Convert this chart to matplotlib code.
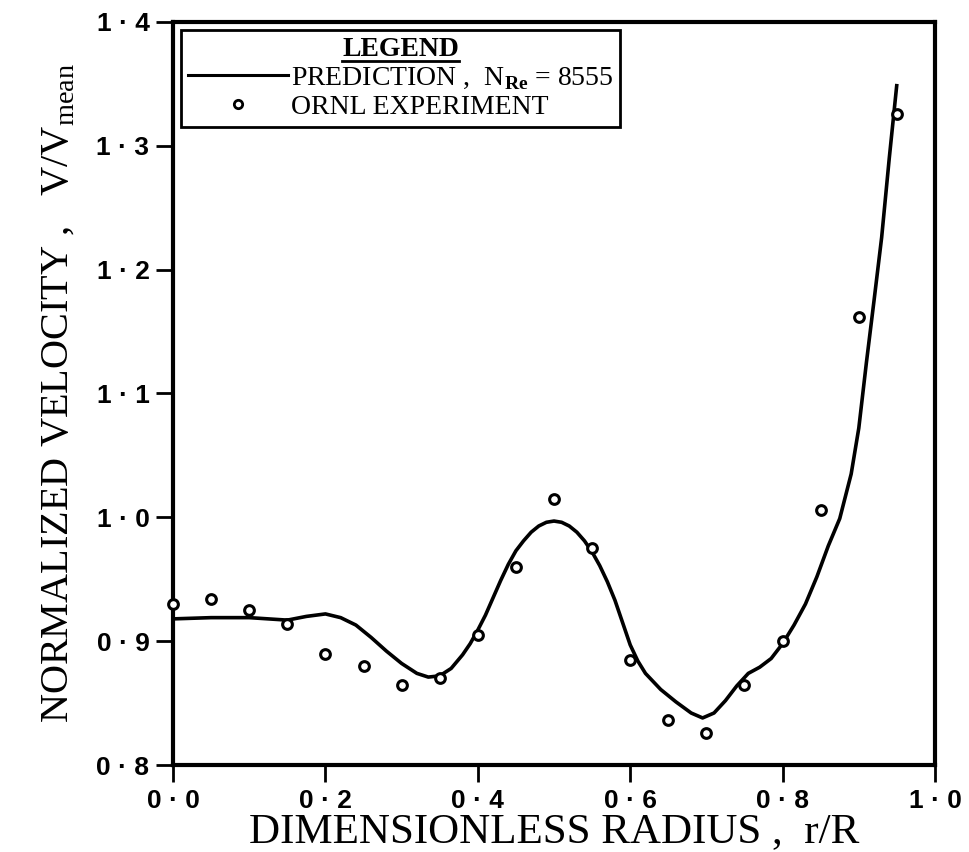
#!/usr/bin/env python3
"""Normalized velocity profile vs dimensionless radius: prediction curve and ORNL data."""
import matplotlib
matplotlib.use("Agg")
import matplotlib.pyplot as plt
from matplotlib.lines import Line2D

# prediction curve, N_Re = 8555
pred_r = [0.0, 0.05, 0.10, 0.15, 0.175, 0.20, 0.22, 0.24, 0.26, 0.28, 0.30, 0.32,
          0.335, 0.35, 0.365, 0.38, 0.39, 0.40, 0.41, 0.42, 0.43, 0.44, 0.45, 0.46,
          0.47, 0.48, 0.49, 0.50, 0.51, 0.52, 0.53, 0.54, 0.55, 0.56, 0.57, 0.58,
          0.59, 0.60, 0.61, 0.62, 0.64, 0.66, 0.68, 0.695, 0.71, 0.725, 0.74, 0.755,
          0.77, 0.785, 0.80, 0.815, 0.83, 0.845, 0.86, 0.875, 0.89, 0.90, 0.91, 0.92,
          0.93, 0.94, 0.95]
pred_v = [0.918, 0.919, 0.919, 0.917, 0.920, 0.922, 0.919, 0.913, 0.903, 0.892, 0.882, 0.874,
          0.871, 0.872, 0.878, 0.889, 0.898, 0.909, 0.921, 0.935, 0.949, 0.962, 0.973, 0.981,
          0.988, 0.993, 0.996, 0.997, 0.996, 0.993, 0.988, 0.981, 0.972, 0.961, 0.948, 0.933,
          0.915, 0.897, 0.884, 0.874, 0.861, 0.851, 0.842, 0.838, 0.842, 0.852, 0.864, 0.874,
          0.879, 0.886, 0.898, 0.913, 0.930, 0.952, 0.977, 0.999, 1.035, 1.072, 1.125, 1.175,
          1.226, 1.290, 1.350]

# ORNL experiment points
exp_r = [0.0, 0.05, 0.10, 0.15, 0.20, 0.25, 0.30, 0.35, 0.40, 0.45, 0.50, 0.55,
         0.60, 0.65, 0.70, 0.75, 0.80, 0.85, 0.90, 0.95]
exp_v = [0.930, 0.934, 0.925, 0.914, 0.890, 0.880, 0.865, 0.870, 0.905, 0.960, 1.015, 0.975,
         0.885, 0.836, 0.826, 0.865, 0.900, 1.006, 1.162, 1.326]

xticks = [0.0, 0.2, 0.4, 0.6, 0.8, 1.0]
xticklabels = ["0 · 0", "0 · 2", "0 · 4", "0 · 6", "0 · 8", "1 · 0"]
yticks = [0.8, 0.9, 1.0, 1.1, 1.2, 1.3, 1.4]
yticklabels = ["0 · 8", "0 · 9", "1 · 0", "1 · 1", "1 · 2", "1 · 3", "1 · 4"]

plt.rcParams["font.family"] = ["Liberation Serif", "DejaVu Serif"]
plt.rcParams["mathtext.fontset"] = "custom"
plt.rcParams["mathtext.rm"] = "Liberation Serif"
plt.rcParams["mathtext.bf"] = "Liberation Serif:bold"

fig = plt.figure(figsize=(9.7, 8.52), dpi=100)
ax = fig.add_axes([0.1784, 0.1021, 0.7855, 0.8721])

ax.plot(pred_r, pred_v, color="black", lw=2.6, solid_capstyle="butt", solid_joinstyle="round")
ax.plot(exp_r, exp_v, ls="none", marker="o", ms=7, mfc="white", mec="black", mew=2.2,
        clip_on=False, zorder=5)

ax.set_xlim(0.0, 1.0)
ax.set_ylim(0.8, 1.4)
ax.set_xticks(xticks)
ax.set_xticklabels(xticklabels, fontfamily="Liberation Sans", fontweight="bold", fontsize=19)
ax.set_yticks(yticks)
ax.set_yticklabels(yticklabels, fontfamily="Liberation Sans", fontweight="bold", fontsize=19)
ax.tick_params(direction="out", length=12, width=2, pad=5)
for s in ax.spines.values():
    s.set_linewidth(3)

ax.set_xlabel("DIMENSIONLESS RADIUS ,  r/R", fontsize=31, labelpad=0)
ax.set_ylabel(r"NORMALIZED VELOCITY ,   V/V$_{\rm mean}$", fontsize=29, labelpad=14)

handles = [Line2D([], [], color="black", lw=2.2),
           Line2D([], [], ls="none", marker="o", ms=6, mfc="white", mec="black", mew=2)]
labels = [r"PREDICTION ,  N$_{\bf Re}$ = 8555", "ORNL EXPERIMENT"]
leg = ax.legend(handles, labels, loc="upper left", title="LEGEND", fancybox=False,
                edgecolor="black", framealpha=1, borderaxespad=0.3, handlelength=3.6,
                handletextpad=0.1, labelspacing=0.1, borderpad=0.25,
                prop={"size": 20}, title_fontproperties={"size": 20, "weight": "bold"})
leg.get_frame().set_linewidth(2)

# underline the legend title
fig.canvas.draw()
bb = leg.get_title().get_window_extent(fig.canvas.get_renderer())
bb = bb.transformed(fig.transFigure.inverted())
fig.add_artist(Line2D([bb.x0, bb.x1], [bb.y0 + 0.001, bb.y0 + 0.001], color="black",
                      lw=2, transform=fig.transFigure))

fig.savefig("out.png", dpi=100)
